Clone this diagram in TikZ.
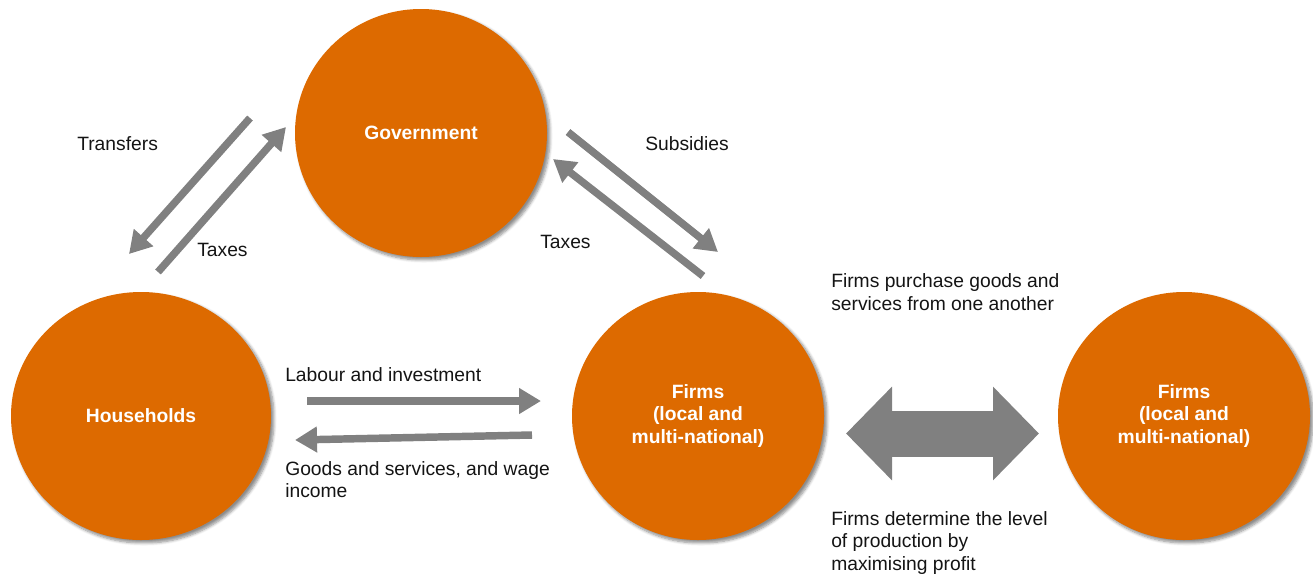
\documentclass[tikz,border=0pt]{standalone}
\usepackage{fontspec}
\setmainfont{Liberation Sans}
\usetikzlibrary{arrows.meta,shapes.geometric,shadows.blur}
\definecolor{orng}{RGB}{221,106,0}
\definecolor{agray}{RGB}{128,128,128}
\definecolor{txt}{RGB}{20,20,20}
\begin{document}
\begin{tikzpicture}[x=0.75pt,y=-0.75pt,
  font=\fontsize{14.45}{16.9}\selectfont,
  ball/.style={ellipse, fill=orng, text=white, align=center, inner sep=0pt,
    font=\fontsize{14.45}{16.9}\selectfont\bfseries,
    minimum width=189pt, minimum height=186pt,
    blur shadow={shadow xshift=2.2pt, shadow yshift=-2.2pt, shadow blur steps=6,
      shadow blur extra rounding=1.5pt, shadow opacity=45}},
  flow/.style={draw=agray, line width=5.6pt, -{Triangle[length=16.5pt,width=18.5pt]}},
  bigflow/.style={draw=agray, line width=34.5pt,
    {Triangle[length=34.5pt,width=68.25pt]}-{Triangle[length=34.5pt,width=68.25pt]}},
  lbl/.style={anchor=west, align=left, inner sep=0pt, text=txt}]
\useasboundingbox (0,0) rectangle (1313,576);

% circles
\node[ball] (gov) at (421,133) {Government};
\node[ball, minimum width=195pt] (hh) at (141,416) {Households};
\node[ball] (f1) at (698,416) {Firms\\(local and\\multi-national)};
\node[ball] (f2) at (1184,416) {Firms\\(local and\\multi-national)};

% connector end points
\coordinate (tA) at (250,118); \coordinate (tB) at (129,254);
\coordinate (xA) at (158,272); \coordinate (xB) at (286,127);
\coordinate (sA) at (568,132); \coordinate (sB) at (718,252);
\coordinate (yA) at (703,276); \coordinate (yB) at (553,159);
\coordinate (lA) at (307,401); \coordinate (lB) at (541,401);
\coordinate (gA) at (532,435); \coordinate (gB) at (295,440);
\coordinate (dA) at (846,433.5); \coordinate (dB) at (1039,433.5);

\draw[flow] (tA) -- (tB);
\draw[flow] (xA) -- (xB);
\draw[flow] (sA) -- (sB);
\draw[flow] (yA) -- (yB);
\draw[flow] (lA) -- (lB);
\draw[flow] (gA) -- (gB);
\draw[bigflow] (dA) -- (dB);

% labels
\node[lbl] (l1) at (77,144) {Transfers};
\node[lbl] (l2) at (197,250) {Taxes};
\node[lbl] (l3) at (645,144) {Subsidies};
\node[lbl] (l4) at (540,242) {Taxes};
\node[lbl] (l5) at (831,292) {Firms purchase goods and\\services from one another};
\node[lbl] (l6) at (285,375) {Labour and investment};
\node[lbl] (l7) at (285,479.5) {Goods and services, and wage\\income};
\node[lbl] (l8) at (831,543) {Firms determine the level\\of production by\\maximising profit};
\end{tikzpicture}
\end{document}
